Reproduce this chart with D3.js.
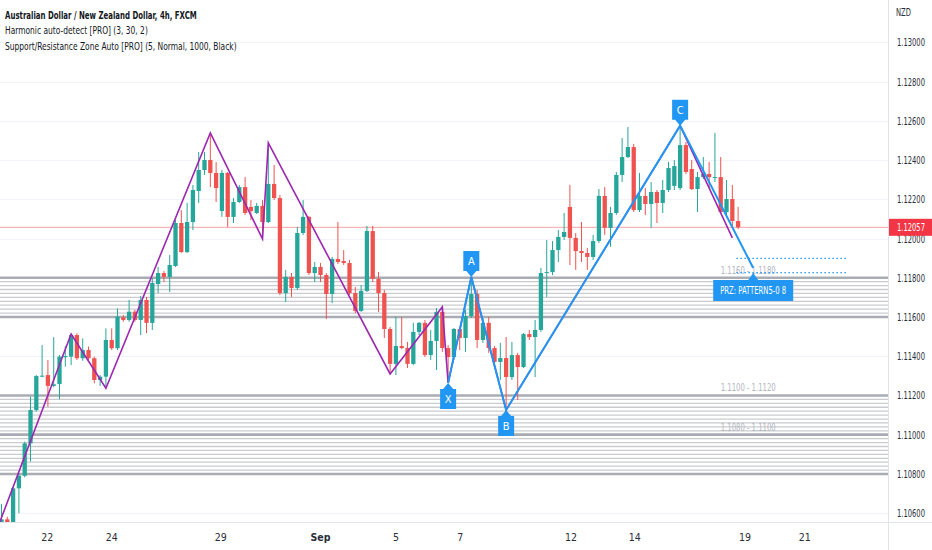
<!DOCTYPE html>
<html>
<head>
<meta charset="utf-8">
<script src="https://cdn.jsdelivr.net/npm/d3@7"></script>
<style>
body{margin:0;background:#fff;}
text{font-family:"DejaVu Sans Condensed","Liberation Sans Narrow",Roboto,sans-serif;font-stretch:condensed;}
</style>
</head>
<body>
<div id="chart"></div>
<script>
//AUD/NZD 4h candles (index 0 = leftmost candle)
var opens = [1.10540,1.10569,1.10545,1.10727,1.10791,1.10956,1.11126,1.11296,1.11304,1.11249,
1.11259,1.11395,1.11398,1.11508,1.11390,1.11432,1.11390,1.11279,1.11296,1.11483,
1.11441,1.11598,1.11585,1.11627,1.11585,1.11687,1.11570,1.11768,1.11824,1.11804,
1.11860,1.12079,1.11931,1.12084,1.12242,1.12349,1.12400,1.12334,1.12140,1.12334,
1.12110,1.12186,1.12262,1.12161,1.12130,1.12166,1.12084,1.12278,1.12206,1.11722,
1.11804,1.11748,1.12028,1.12110,1.11824,1.11855,1.11814,1.11717,1.11896,1.11885,
1.11875,1.11722,1.11631,1.11733,1.12038,1.11794,1.11722,1.11539,1.11361,1.11452,
1.11442,1.11361,1.11524,1.11570,1.11406,1.11478,1.11626,1.11442,1.11396,1.11539,
1.11493,1.11605,1.11717,1.11483,1.11570,1.11442,1.11371,1.11391,1.11294,1.11406,
1.11345,1.11513,1.11498,1.11534,1.11824,1.11829,1.11941,1.12008,1.12161,1.12003,
1.11936,1.11926,1.11906,1.11987,1.12217,1.12054,1.12130,1.12324,1.12415,1.12466,
1.12145,1.12217,1.12176,1.12237,1.12181,1.12247,1.12268,1.12257,1.12476,1.12354,
1.12252,1.12313,1.12329,1.12308,1.12313,1.12135,1.12201,1.12089];
var highs = [1.10647,1.10582,1.10735,1.10804,1.10965,1.11194,1.11304,1.11457,1.11381,1.11497,
1.11406,1.11452,1.11513,1.11517,1.11491,1.11449,1.11398,1.11304,1.11542,1.11542,
1.11644,1.11610,1.11687,1.11636,1.11707,1.11702,1.11799,1.11855,1.11834,1.11916,
1.12094,1.12145,1.12181,1.12273,1.12441,1.12441,1.12538,1.12390,1.12349,1.12339,
1.12206,1.12273,1.12313,1.12196,1.12181,1.12196,1.12487,1.12375,1.12222,1.11840,
1.11824,1.12059,1.12196,1.12115,1.11880,1.11875,1.11824,1.11906,1.12084,1.11941,
1.11891,1.11753,1.11763,1.12064,1.12064,1.11829,1.11738,1.11549,1.11600,1.11600,
1.11473,1.11570,1.11575,1.11585,1.11534,1.11646,1.11651,1.11457,1.11544,1.11549,
1.11636,1.11804,1.11738,1.11595,1.11600,1.11452,1.11468,1.11498,1.11473,1.11417,
1.11518,1.11534,1.11585,1.11850,1.11992,1.11987,1.12043,1.12130,1.12273,1.12028,
1.12084,1.11952,1.12018,1.12252,1.12262,1.12161,1.12339,1.12512,1.12568,1.12482,
1.12334,1.12257,1.12288,1.12247,1.12298,1.12390,1.12400,1.12575,1.12492,1.12400,
1.12339,1.12415,1.12390,1.12538,1.12415,1.12298,1.12273,1.12161];
var lows = [1.10540,1.10540,1.10540,1.10600,1.10783,1.10863,1.11118,1.11293,1.11143,1.11242,
1.11181,1.11347,1.11355,1.11381,1.11377,1.11381,1.11262,1.11249,1.11237,1.11432,
1.11432,1.11576,1.11576,1.11576,1.11508,1.11518,1.11534,1.11722,1.11778,1.11727,
1.11855,1.11926,1.11926,1.12043,1.12181,1.12324,1.12262,1.12186,1.12110,1.12059,
1.12079,1.12181,1.12120,1.12094,1.12125,1.11998,1.12079,1.12196,1.11712,1.11676,
1.11702,1.11738,1.12018,1.11814,1.11778,1.11778,1.11590,1.11671,1.11870,1.11865,
1.11712,1.11620,1.11626,1.11727,1.11778,1.11626,1.11493,1.11310,1.11304,1.11437,
1.11340,1.11355,1.11508,1.11396,1.11381,1.11330,1.11422,1.11264,1.11381,1.11432,
1.11422,1.11595,1.11442,1.11468,1.11417,1.11361,1.11279,1.11126,1.11279,1.11177,
1.11340,1.11483,1.11294,1.11524,1.11702,1.11814,1.11880,1.11992,1.11865,1.11840,
1.11880,1.11840,1.11891,1.11977,1.12018,1.11957,1.12120,1.12288,1.12410,1.12135,
1.12135,1.12120,1.12054,1.12079,1.12130,1.12237,1.12247,1.12247,1.12329,1.12247,
1.12135,1.12303,1.12257,1.12288,1.12130,1.12120,1.12054,1.12048];
var closes = [1.10569,1.10549,1.10727,1.10791,1.10956,1.11126,1.11299,1.11301,1.11249,1.11257,
1.11398,1.11401,1.11508,1.11390,1.11432,1.11390,1.11279,1.11296,1.11483,1.11441,
1.11602,1.11585,1.11627,1.11585,1.11687,1.11570,1.11773,1.11824,1.11804,1.11865,
1.12079,1.11931,1.12084,1.12247,1.12349,1.12400,1.12334,1.12257,1.12334,1.12110,
1.12186,1.12262,1.12130,1.12140,1.12166,1.12084,1.12278,1.12206,1.11722,1.11804,
1.11748,1.12028,1.12110,1.11824,1.11855,1.11814,1.11717,1.11896,1.11880,1.11875,
1.11722,1.11631,1.11733,1.12038,1.11794,1.11722,1.11539,1.11361,1.11452,1.11442,
1.11361,1.11524,1.11570,1.11406,1.11478,1.11626,1.11442,1.11396,1.11539,1.11493,
1.11605,1.11717,1.11483,1.11570,1.11442,1.11371,1.11391,1.11294,1.11406,1.11345,
1.11513,1.11498,1.11534,1.11824,1.11829,1.11941,1.12008,1.12033,1.12003,1.11936,
1.11926,1.11906,1.11987,1.12217,1.12054,1.12130,1.12324,1.12415,1.12466,1.12145,
1.12217,1.12176,1.12237,1.12181,1.12247,1.12359,1.12369,1.12476,1.12339,1.12252,
1.12313,1.12329,1.12313,1.12313,1.12135,1.12201,1.12089,1.12057];

//time axis (candle index of each day label)
var timeTickIdx = [7.9, 19, 37.8, 55, 68, 79.1, 98.2, 109.2, 128.2, 138.5];
var timeTickLabels = ["22","24","29","Sep","5","7","12","14","19","21"];

//price axis
var priceTicks = [1.106,1.108,1.110,1.112,1.114,1.116,1.118,1.120,1.122,1.124,1.126,1.128,1.130];

//zigzag pivots (purple)
var zigIdx = [-1, 12, 18, 36, 45, 46, 67, 76, 77, 81, 87, 117, 126];
var zigPrice = [1.1050, 1.11513, 1.11237, 1.12538, 1.11998, 1.12487, 1.11310, 1.11651, 1.11264, 1.11804, 1.11126, 1.12575, 1.12003];

//harmonic pattern (blue)
var patIdx = [77, 81, 87, 117, 129.6];
var patPrice = [1.11264, 1.11804, 1.11126, 1.12575, 1.11850];
var patNames = ["X", "A", "B", "C", ""];

//PRZ
var przLevels = [1.11899, 1.11826];
var przFrom = 126.7, przTo = 145.6;
var przText = "PRZ: PATTERN5-0 8";

//support / resistance zones
var zoneLows = [1.116, 1.110, 1.108];
var zoneHighs = [1.118, 1.112, 1.110];
var zoneLabels = ["1.1160 - 1.1180", "1.1100 - 1.1120", "1.1080 - 1.1100"];
var zoneStep = 0.0002;
var zoneLabelIdx = 124;

var legendLines = ["Australian Dollar / New Zealand Dollar, 4h, FXCM",
  "Harmonic auto-detect [PRO] (3, 30, 2)",
  "Support/Resistance Zone Auto [PRO] (5, Normal, 1000, Black)"];
var legendWidths = [192, 143, 232];

var width = 932, height = 550, plotW = 888, plotH = 522;
var upColor = "#26a69a", downColor = "#ef5350", blue = "#2196f3", purple = "#9c27b0";

var x = d3.scaleLinear().domain([-0.26, 152.84]).range([0, plotW]);
var y = d3.scaleLinear().domain([1.105554, 1.132153]).range([plotH, 0]);
var step = x(1) - x(0), bodyW = step * 0.74;

//squeeze a left-anchored text to a given width (the reference uses a narrow face)
var fit = function(sel, w){
  sel.each(function(){
    var t = d3.select(this);
    var tx = +t.attr("x"), ty = +t.attr("y");
    var len = this.getComputedTextLength();
    var k = len > 0 ? w / len : 1;
    t.attr("x", 0).attr("y", 0)
      .attr("transform", "translate(" + tx + "," + ty + ") scale(" + k + ",1)");
  });
};

var svg = d3.select("#chart").append("svg")
  .attr("width", width)
  .attr("height", height)
  .style("display", "block");

svg.append("rect").attr("width", width).attr("height", height).attr("fill", "#fff");

svg.append("clipPath").attr("id", "plot")
  .append("rect").attr("width", plotW).attr("height", plotH);

var plot = svg.append("g").attr("clip-path", "url(#plot)");

//grid
plot.selectAll(".grid").data(priceTicks).enter().append("line")
  .attr("x1", 0).attr("x2", plotW)
  .attr("y1", function(d){ return Math.round(y(d)) + 0.5; })
  .attr("y2", function(d){ return Math.round(y(d)) + 0.5; })
  .attr("stroke", "#f0f3fa");

//S/R zone lines
var zoneLines = [];
zoneLows.forEach(function(lo, z){
  var n = Math.round((zoneHighs[z] - lo) / zoneStep);
  for (var k = 0; k <= n; k++) {
    zoneLines.push({p: lo + k * zoneStep, edge: (k == 0 || k == n)});
  }
});
plot.selectAll(".zone").data(zoneLines).enter().append("line")
  .attr("x1", 0).attr("x2", plotW)
  .attr("y1", function(d){ return y(d.p); })
  .attr("y2", function(d){ return y(d.p); })
  .attr("stroke", function(d){ return d.edge ? "#a9acb3" : "#c9cbd0"; })
  .attr("stroke-width", function(d){ return d.edge ? 2.6 : 1.3; });

plot.selectAll(".zoneLabel").data(zoneLabels).enter().append("text")
  .attr("x", x(zoneLabelIdx))
  .attr("y", function(d, i){ return y(zoneHighs[i]) - 4; })
  .attr("fill", "#b2b5be")
  .style("font-size", "10px")
  .text(function(d){ return d; })
  .call(fit, 55);

//last price line
var last = closes[closes.length - 1];
plot.append("line")
  .attr("x1", 0).attr("x2", plotW)
  .attr("y1", y(last)).attr("y2", y(last))
  .attr("stroke", "#f23645").attr("stroke-opacity", 0.45);

//candles
var candles = plot.selectAll(".candle").data(opens).enter().append("g")
  .attr("fill", function(d, i){ return closes[i] >= d ? upColor : downColor; })
  .attr("stroke", function(d, i){ return closes[i] >= d ? upColor : downColor; });
candles.append("line")
  .attr("x1", function(d, i){ return x(i); })
  .attr("x2", function(d, i){ return x(i); })
  .attr("y1", function(d, i){ return y(highs[i]); })
  .attr("y2", function(d, i){ return y(lows[i]); })
  .attr("stroke-width", 1);
candles.append("rect")
  .attr("stroke", "none")
  .attr("x", function(d, i){ return x(i) - bodyW / 2; })
  .attr("width", bodyW)
  .attr("y", function(d, i){ return y(Math.max(d, closes[i])); })
  .attr("height", function(d, i){ return Math.max(1, Math.abs(y(d) - y(closes[i]))); });

//zigzag
var line = d3.line()
  .x(function(d){ return x(d[0]); })
  .y(function(d){ return y(d[1]); });
plot.append("path")
  .datum(d3.zip(zigIdx, zigPrice))
  .attr("d", line)
  .attr("fill", "none")
  .attr("stroke", purple)
  .attr("stroke-width", 1.6);

//harmonic pattern
plot.append("path")
  .datum(d3.zip(patIdx, patPrice))
  .attr("d", line)
  .attr("fill", "none")
  .attr("stroke", blue)
  .attr("stroke-width", 2);

//PRZ dotted lines
plot.selectAll(".prz").data(przLevels).enter().append("line")
  .attr("x1", x(przFrom)).attr("x2", x(przTo))
  .attr("y1", function(d){ return y(d); })
  .attr("y2", function(d){ return y(d); })
  .attr("stroke", blue).attr("stroke-width", 1.3)
  .attr("stroke-dasharray", "1.5,2.5");

//label shape: box with a pointer whose tip sits on (cx, tip)
var labelPath = function(cx, tip, dir, w, h, th){
  var b = tip + dir * th, far = b + dir * h;
  return "M" + cx + "," + tip + "L" + (cx + 5) + "," + b + "L" + (cx + w / 2) + "," + b +
    "L" + (cx + w / 2) + "," + far + "L" + (cx - w / 2) + "," + far +
    "L" + (cx - w / 2) + "," + b + "L" + (cx - 5) + "," + b + "Z";
};

patNames.forEach(function(name, i){
  if (!name) return;
  var dir = (i % 2 == 0) ? 1 : -1;
  var px = x(patIdx[i]), py = y(patPrice[i]);
  svg.append("path")
    .attr("d", labelPath(px, py, dir, 16, 20, 6))
    .attr("fill", blue);
  svg.append("text")
    .attr("x", px).attr("y", py + dir * 16 + 4)
    .attr("text-anchor", "middle")
    .attr("fill", "#fff")
    .style("font-size", "11px")
    .text(name);
});

//PRZ label
var dx = x(patIdx[4]), dy = y(patPrice[4]);
svg.append("path")
  .attr("d", labelPath(dx, dy + 5, 1, 80, 21, 7))
  .attr("fill", blue);
svg.append("text")
  .attr("x", dx - 33).attr("y", dy + 5 + 7 + 14.5)
  .attr("fill", "#fff")
  .style("font-size", "11px")
  .text(przText)
  .call(fit, 66);

//axes frame
svg.append("line").attr("x1", plotW + 0.5).attr("x2", plotW + 0.5).attr("y1", 0).attr("y2", height)
  .attr("stroke", "#e0e3eb");
svg.append("line").attr("x1", 0).attr("x2", width).attr("y1", plotH + 0.5).attr("y2", plotH + 0.5)
  .attr("stroke", "#e0e3eb");

//price axis
svg.selectAll(".ptick").data(priceTicks).enter().append("text")
  .attr("x", 897)
  .attr("y", function(d){ return y(d) + 4; })
  .attr("fill", "#2a2e39")
  .style("font-size", "10.5px")
  .text(function(d){ return d3.format(".5f")(d); })
  .call(fit, 28);
svg.append("text")
  .attr("x", 896).attr("y", 16)
  .attr("fill", "#2a2e39")
  .style("font-size", "10px")
  .text("NZD")
  .call(fit, 15);

//last price tag
svg.append("rect")
  .attr("x", plotW + 1).attr("y", y(last) - 8.5)
  .attr("width", width - plotW - 1).attr("height", 17)
  .attr("fill", "#f23645");
svg.append("text")
  .attr("x", 897).attr("y", y(last) + 4)
  .attr("fill", "#fff")
  .style("font-size", "10.5px")
  .text(d3.format(".5f")(last))
  .call(fit, 28);

//time axis
svg.selectAll(".ttick").data(timeTickIdx).enter().append("text")
  .attr("x", function(d){ return x(d); })
  .attr("y", 541)
  .attr("text-anchor", "middle")
  .attr("fill", "#2a2e39")
  .style("font-size", "10.5px")
  .style("font-weight", function(d, i){ return timeTickLabels[i] == "Sep" ? "bold" : "normal"; })
  .text(function(d, i){ return timeTickLabels[i]; });

//legend
svg.selectAll(".legend").data(legendLines).enter().append("text")
  .attr("x", 5)
  .attr("y", function(d, i){ return 18.5 + i * 15.5; })
  .attr("fill", "#131722")
  .style("font-size", "11px")
  .style("font-weight", function(d, i){ return i == 0 ? "bold" : "normal"; })
  .text(function(d){ return d; })
  .each(function(d, i){ d3.select(this).call(fit, legendWidths[i]); });
</script>
</body>
</html>
